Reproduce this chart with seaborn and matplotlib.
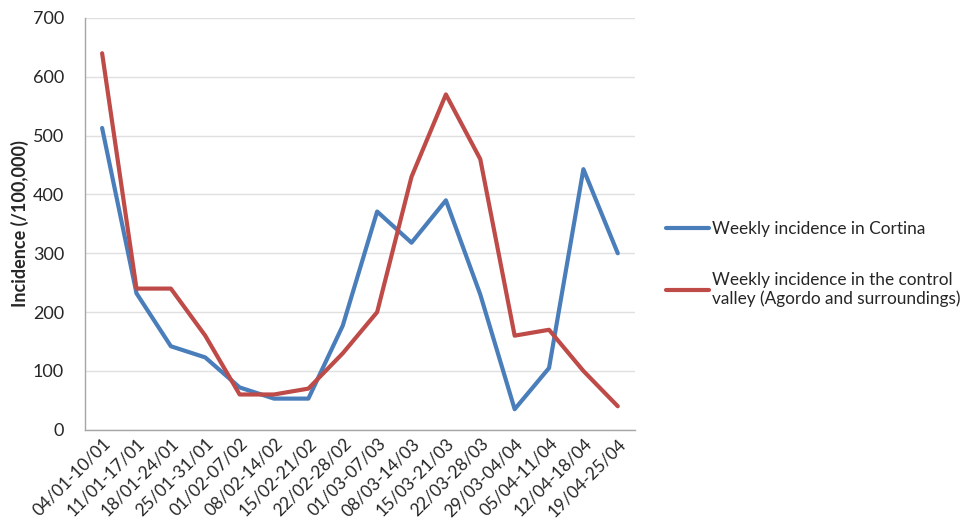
import pandas as pd
import matplotlib.pyplot as plt
import seaborn as sns

# Tjedni intervali (kategorije na x osi)
weeks = ["04/01-10/01", "11/01-17/01", "18/01-24/01", "25/01-31/01",
         "01/02-07/02", "08/02-14/02", "15/02-21/02", "22/02-28/02",
         "01/03-07/03", "08/03-14/03", "15/03-21/03", "22/03-28/03",
         "29/03-04/04", "05/04-11/04", "12/04-18/04", "19/04-25/04"]

cortina = [513, 232, 142, 123, 72, 53, 53, 177, 371, 318, 390, 230, 35, 105, 443, 300]
control = [640, 240, 240, 160, 60, 60, 70, 130, 200, 430, 570, 460, 160, 170, 100, 40]

label_cortina = "Weekly incidence in Cortina"
label_control = "Weekly incidence in the control\nvalley (Agordo and surroundings)"

df = pd.DataFrame({
    "week": weeks * 2,
    "pos": list(range(len(weeks))) * 2,
    "incidence": cortina + control,
    "series": [label_cortina] * len(weeks) + [label_control] * len(weeks),
})

sns.set_style("white")
plt.rcParams["font.family"] = ["Lato", "DejaVu Sans"]

fig = plt.figure(figsize=(9.65, 5.28), dpi=100)
ax = fig.add_axes([0.088, 0.186, 0.57, 0.78])

sns.lineplot(data=df, x="pos", y="incidence", hue="series",
             palette=["#4a7ebb", "#be4b48"], linewidth=3.0, ax=ax, legend=False)

ax.set_xlim(-0.5, len(weeks) - 0.5)
ax.set_ylim(0, 700)
ax.set_yticks(range(0, 701, 100))
ax.set_xticks(range(len(weeks)))
ax.set_xticklabels(weeks, rotation=45, ha="right", rotation_mode="anchor", fontsize=12.5)
ax.tick_params(axis="y", labelsize=13, length=0, pad=15)
ax.tick_params(axis="x", length=0, pad=4)
ax.grid(axis="y", color="#e0e0e0", linewidth=1)
ax.set_xlabel("")
ax.set_ylabel("Incidence (/100,000)", fontsize=13, fontweight="bold", labelpad=3)

for side in ["top", "right"]:
    ax.spines[side].set_visible(False)
for side in ["left", "bottom"]:
    ax.spines[side].set_color("#a6a6a6")
    ax.spines[side].set_linewidth(1)

handles = [plt.Line2D([], [], color="#4a7ebb", linewidth=3.0),
           plt.Line2D([], [], color="#be4b48", linewidth=3.0)]
fig.legend(handles, [label_cortina, label_control], loc="center left",
           bbox_to_anchor=(0.674, 0.5), frameon=False, fontsize=12.4,
           handlelength=2.5, handletextpad=0.15, labelspacing=2.0)

fig.savefig("out.png", dpi=100)
plt.close()
